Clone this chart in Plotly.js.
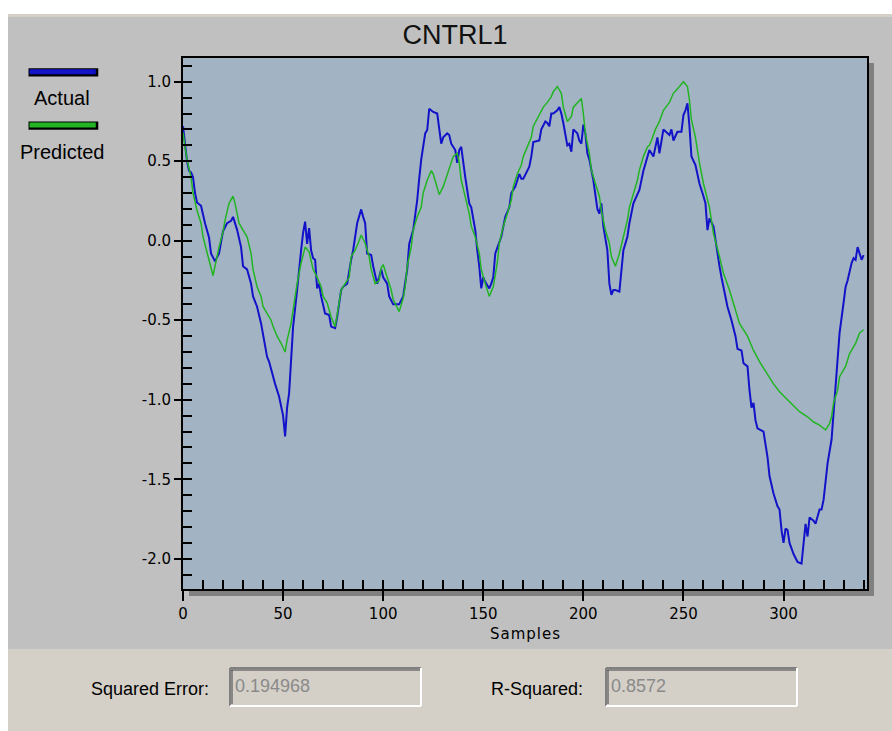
<!DOCTYPE html>
<html><head><meta charset="utf-8">
<script src="https://cdn.plot.ly/plotly-3.0.1.min.js"></script>
<style>html,body{margin:0;padding:0;background:#fff;}#chart{width:892px;height:731px;}</style>
</head><body><div id="chart"></div>
<script>
const chartTitle = 'CNTRL1';
const seriesNames = ['Actual', 'Predicted'];
const xTitle = 'Samples';
const statLabels = ['Squared Error:', 'R-Squared:'];
const statValues = ['0.194968', '0.8572'];
const yTickVals = [1.0, 0.5, 0.0, -0.5, -1.0, -1.5, -2.0];
const yTickText = ['1.0', '0.5', '0.0', '-0.5', '-1.0', '-1.5', '-2.0'];
const xTickVals = [0, 50, 100, 150, 200, 250, 300];
const xTickText = ['0', '50', '100', '150', '200', '250', '300'];

const actualX = [0,1,2,3,4,5,6,7,9,11,13,14,16,18,19,20,22,24,25,26,27,29,30,32,34,35,37,39,40,42,43,44,46,48,49,50,51,52,53,54,55,57,58,59,60,61,62,63,64,65,66,67,68,69,71,73,74,76,77,78,79,80,82,84,85,87,89,90,91,92,94,95,97,98,99,100,102,103,105,108,110,112,113,115,117,118,119,121,122,123,125,127,128,129,130,132,133,134,136,137,138,139,141,143,144,145,146,147,148,149,150,151,153,154,155,156,158,159,161,163,164,166,168,169,170,173,174,175,178,179,181,182,183,184,185,187,188,189,190,192,193,194,195,197,198,199,200,201,202,203,205,206,207,208,209,210,212,213,214,215,216,218,219,220,222,223,225,227,228,230,232,233,235,237,238,240,243,244,245,247,249,250,251,252,253,254,256,257,258,260,261,262,263,265,266,267,268,269,271,272,274,276,277,279,280,282,283,284,285,286,287,290,292,293,295,297,298,299,300,301,302,303,305,307,309,310,311,312,313,315,316,318,319,320,321,322,324,325,326,327,328,330,331,332,334,335,336,337,339,340];
const actualY = [0.72,0.62,0.50,0.44,0.43,0.40,0.30,0.24,0.22,0.11,0.02,-0.08,-0.13,-0.08,0.0,0.06,0.11,0.125,0.15,0.11,0.07,-0.04,-0.16,-0.18,-0.27,-0.35,-0.415,-0.52,-0.60,-0.73,-0.76,-0.81,-0.90,-0.98,-1.05,-1.10,-1.23,-1.05,-0.96,-0.73,-0.54,-0.31,-0.16,-0.06,0.05,0.12,-0.02,0.08,-0.06,-0.11,-0.12,-0.30,-0.27,-0.35,-0.457,-0.467,-0.54,-0.55,-0.48,-0.39,-0.31,-0.29,-0.27,-0.12,-0.06,0.11,0.197,0.15,0.11,-0.08,-0.09,-0.16,-0.27,-0.23,-0.18,-0.23,-0.27,-0.35,-0.40,-0.40,-0.35,-0.18,-0.02,0.067,0.256,0.39,0.51,0.675,0.696,0.83,0.81,0.80,0.70,0.61,0.65,0.675,0.665,0.61,0.57,0.49,0.57,0.59,0.40,0.235,0.21,0.13,0.067,-0.06,-0.16,-0.30,-0.23,-0.26,-0.30,-0.27,-0.23,-0.08,-0.016,0.025,0.15,0.21,0.30,0.34,0.42,0.39,0.39,0.465,0.53,0.62,0.63,0.70,0.75,0.74,0.72,0.80,0.80,0.82,0.84,0.80,0.74,0.60,0.61,0.56,0.70,0.675,0.63,0.61,0.73,0.675,0.55,0.51,0.38,0.28,0.20,0.17,0.235,0.09,-0.06,-0.27,-0.34,-0.31,-0.31,-0.32,-0.18,-0.06,0.025,0.11,0.235,0.30,0.32,0.44,0.53,0.57,0.53,0.65,0.55,0.70,0.665,0.70,0.63,0.685,0.685,0.79,0.82,0.864,0.72,0.53,0.476,0.42,0.36,0.28,0.235,0.067,0.14,0.09,0.0,-0.08,-0.16,-0.23,-0.35,-0.415,-0.50,-0.60,-0.68,-0.69,-0.77,-0.79,-0.94,-1.05,-1.02,-1.13,-1.18,-1.20,-1.36,-1.48,-1.59,-1.67,-1.69,-1.82,-1.90,-1.81,-1.82,-1.90,-1.97,-2.02,-2.03,-1.90,-1.78,-1.86,-1.74,-1.76,-1.78,-1.69,-1.69,-1.63,-1.53,-1.40,-1.25,-1.086,-0.90,-0.77,-0.58,-0.39,-0.29,-0.25,-0.14,-0.11,-0.12,-0.04,-0.12,-0.09];

const predictedX = [0,2,4,5,7,9,10,12,14,15,16,18,20,21,23,25,26,28,30,32,34,35,37,39,40,42,44,45,47,49,51,52,54,55,57,59,61,63,65,67,69,70,72,74,76,78,79,81,83,84,86,88,89,91,93,94,96,98,99,100,102,104,105,107,108,110,111,112,114,115,117,119,120,122,124,125,127,128,130,132,134,135,137,138,139,141,143,144,146,148,149,151,153,155,157,158,160,162,164,165,167,169,170,172,174,175,177,179,180,182,184,185,187,189,190,192,194,195,197,199,200,201,203,204,206,208,209,211,213,214,216,218,220,222,223,225,227,228,229,230,232,233,234,236,238,240,243,245,248,250,252,253,254,256,258,260,263,265,268,270,273,275,278,282,285,288,292,295,298,302,305,308,312,315,318,321,323,324,325,327,328,331,333,336,338,340];
const predictedY = [0.68,0.51,0.40,0.30,0.19,0.11,0.025,-0.08,-0.18,-0.22,-0.16,-0.04,0.057,0.13,0.235,0.28,0.235,0.11,0.067,0.025,-0.08,-0.18,-0.29,-0.35,-0.415,-0.457,-0.50,-0.54,-0.60,-0.645,-0.70,-0.625,-0.52,-0.436,-0.27,-0.14,-0.04,-0.07,-0.18,-0.23,-0.29,-0.35,-0.39,-0.48,-0.54,-0.39,-0.31,-0.27,-0.23,-0.10,-0.06,0.0,0.036,-0.016,-0.10,-0.18,-0.27,-0.25,-0.17,-0.15,-0.23,-0.31,-0.37,-0.415,-0.446,-0.36,-0.29,-0.16,-0.04,0.067,0.15,0.21,0.30,0.38,0.44,0.42,0.34,0.29,0.34,0.42,0.49,0.53,0.55,0.49,0.38,0.28,0.17,0.09,0.025,-0.08,-0.18,-0.27,-0.35,-0.29,-0.14,-0.016,0.09,0.17,0.256,0.34,0.42,0.476,0.53,0.59,0.65,0.72,0.77,0.81,0.84,0.87,0.906,0.937,0.97,0.927,0.84,0.75,0.78,0.84,0.87,0.895,0.80,0.675,0.55,0.445,0.36,0.28,0.19,0.067,-0.016,-0.10,-0.16,-0.08,0.025,0.13,0.21,0.30,0.38,0.445,0.49,0.53,0.59,0.60,0.63,0.70,0.75,0.82,0.87,0.927,0.97,1.0,0.97,0.885,0.76,0.65,0.49,0.36,0.21,0.046,-0.10,-0.205,-0.31,-0.39,-0.52,-0.60,-0.69,-0.76,-0.845,-0.90,-0.95,-1.0,-1.04,-1.075,-1.107,-1.14,-1.16,-1.19,-1.15,-1.107,-1.02,-0.94,-0.855,-0.79,-0.71,-0.645,-0.58,-0.56];

const xRange = [0, 341.7];
const yRange = [-2.19, 1.149];

const W = 892, H = 731;
const M = {l: 183, r: 25, t: 58, b: 142};
const PW = W - M.l - M.r, PH = H - M.t - M.b;
const X = px => (px - M.l) / PW;
const Y = py => (H - M.b - py) / PH;

function rect(x0, y0, x1, y1, color, layer) {
  return {type: 'rect', xref: 'paper', yref: 'paper', x0: X(x0), x1: X(x1), y0: Y(y1), y1: Y(y0),
          fillcolor: color, line: {width: 0}, layer: layer || 'below'};
}
function seg(x0, y0, x1, y1, color, w) {
  return {type: 'line', xref: 'paper', yref: 'paper', x0: X(x0), x1: X(x1), y0: Y(y0), y1: Y(y1),
          line: {color: color, width: w}, layer: 'above'};
}
function label(px, py, text, opts) {
  return Object.assign({xref: 'paper', yref: 'paper', x: X(px), y: Y(py), text: text, showarrow: false,
    xanchor: 'center', yanchor: 'middle', font: {family: 'Liberation Sans, Arial, sans-serif', size: 18, color: '#000'}}, opts || {});
}

const blue = '#1212C8', green = '#22B422';
const shapes = [
  rect(0, 0, 892, 14, '#FFFFFF'),
  rect(0, 0, 8, 731, '#FFFFFF'),
  rect(8, 14, 892, 17, '#D4D0C8'),
  rect(8, 649, 892, 731, '#D4D0C8'),
  rect(867.5, 63, 874, 596, '#808080'),
  rect(189, 589.5, 874, 596, '#808080'),
  // legend swatches
  rect(28.5, 68.3, 98.3, 76.5, '#000000', 'above'),
  rect(29.5, 69.2, 95.8, 74.2, blue, 'above'),
  rect(28.5, 121.5, 98.3, 129.7, '#000000', 'above'),
  rect(29.5, 122.4, 95.8, 127.4, green, 'above'),
];
// sunken text boxes
[[230, 421], [606, 797]].forEach(([a, b]) => {
  shapes.push(seg(a, 668, b, 668, '#808080', 2));
  shapes.push(seg(a, 668, a, 706, '#808080', 2));
  shapes.push(seg(a + 1, 670, b - 1, 670, '#404040', 1));
  shapes.push(seg(a + 2, 670, a + 2, 704, '#404040', 1));
  shapes.push(seg(a, 706, b, 706, '#FFFFFF', 2));
  shapes.push(seg(b, 668, b, 706, '#FFFFFF', 2));
});

const annotations = [
  label(62, 98, seriesNames[0], {font: {family: 'Liberation Sans, Arial, sans-serif', size: 20, color: '#000'}}),
  label(62, 152, seriesNames[1], {font: {family: 'Liberation Sans, Arial, sans-serif', size: 20, color: '#000'}}),
  label(525, 634, '<span style="letter-spacing:1px">' + xTitle + '</span>', {font: {family: 'DejaVu Sans, sans-serif', size: 15, color: '#000'}}),
  label(211, 689, statLabels[0], {xanchor: 'right'}),
  label(585, 689, statLabels[1], {xanchor: 'right'}),
  label(233, 686, statValues[0], {xanchor: 'left', font: {family: 'Liberation Sans, Arial, sans-serif', size: 18, color: '#8A8A8A'}}),
  label(609, 686, statValues[1], {xanchor: 'left', font: {family: 'Liberation Sans, Arial, sans-serif', size: 18, color: '#8A8A8A'}}),
];

const tickFont = {family: 'DejaVu Sans, sans-serif', size: 15, color: '#000'};
const data = [
  {x: actualX, y: actualY, name: seriesNames[0], type: 'scatter', mode: 'lines',
   line: {color: blue, width: 2}, showlegend: false},
  {x: predictedX, y: predictedY, name: seriesNames[1], type: 'scatter', mode: 'lines',
   line: {color: green, width: 1.5}, showlegend: false},
  {x: [], y: [], xaxis: 'x2', yaxis: 'y', showlegend: false, hoverinfo: 'skip'},
  {x: [], y: [], xaxis: 'x', yaxis: 'y2', showlegend: false, hoverinfo: 'skip'},
];

const layout = {
  width: W, height: H,
  margin: M,
  paper_bgcolor: '#C0C0C0',
  plot_bgcolor: '#A2B4C4',
  showlegend: false,
  title: {text: chartTitle, xref: 'container', x: 455 / W, xanchor: 'center', yref: 'container', y: 1 - 35 / H, yanchor: 'middle',
          font: {family: 'Liberation Sans, Arial, sans-serif', size: 27, color: '#111'}},
  xaxis: {range: xRange, tickmode: 'array', tickvals: xTickVals, ticktext: xTickText, ticks: 'outside', ticklen: 10, tickwidth: 2, tickcolor: '#000',
          showline: true, linecolor: '#000', linewidth: 2, mirror: true, showgrid: false, zeroline: false,
          tickfont: tickFont, fixedrange: true},
  yaxis: {range: yRange, tickmode: 'array', tickvals: yTickVals, ticktext: yTickText, ticks: 'outside', ticklen: 7, tickwidth: 2, tickcolor: '#000',
          showline: true, linecolor: '#000', linewidth: 2, mirror: true, showgrid: false, zeroline: false,
          tickfont: tickFont, fixedrange: true},
  xaxis2: {overlaying: 'x', anchor: 'y', side: 'bottom', range: xRange, tick0: 0, dtick: 10, ticks: 'inside', ticklen: 9,
           tickwidth: 2, tickcolor: '#000', showticklabels: false, showgrid: false, zeroline: false, showline: false, fixedrange: true},
  yaxis2: {overlaying: 'y', anchor: 'x', side: 'left', range: yRange, tick0: 0, dtick: 0.1, ticks: 'inside', ticklen: 9,
           tickwidth: 2, tickcolor: '#000', showticklabels: false, showgrid: false, zeroline: false, showline: false, fixedrange: true},
  shapes: shapes,
  annotations: annotations,
};

Plotly.newPlot('chart', data, layout, {displayModeBar: false, staticPlot: true});
</script>
</body></html>
